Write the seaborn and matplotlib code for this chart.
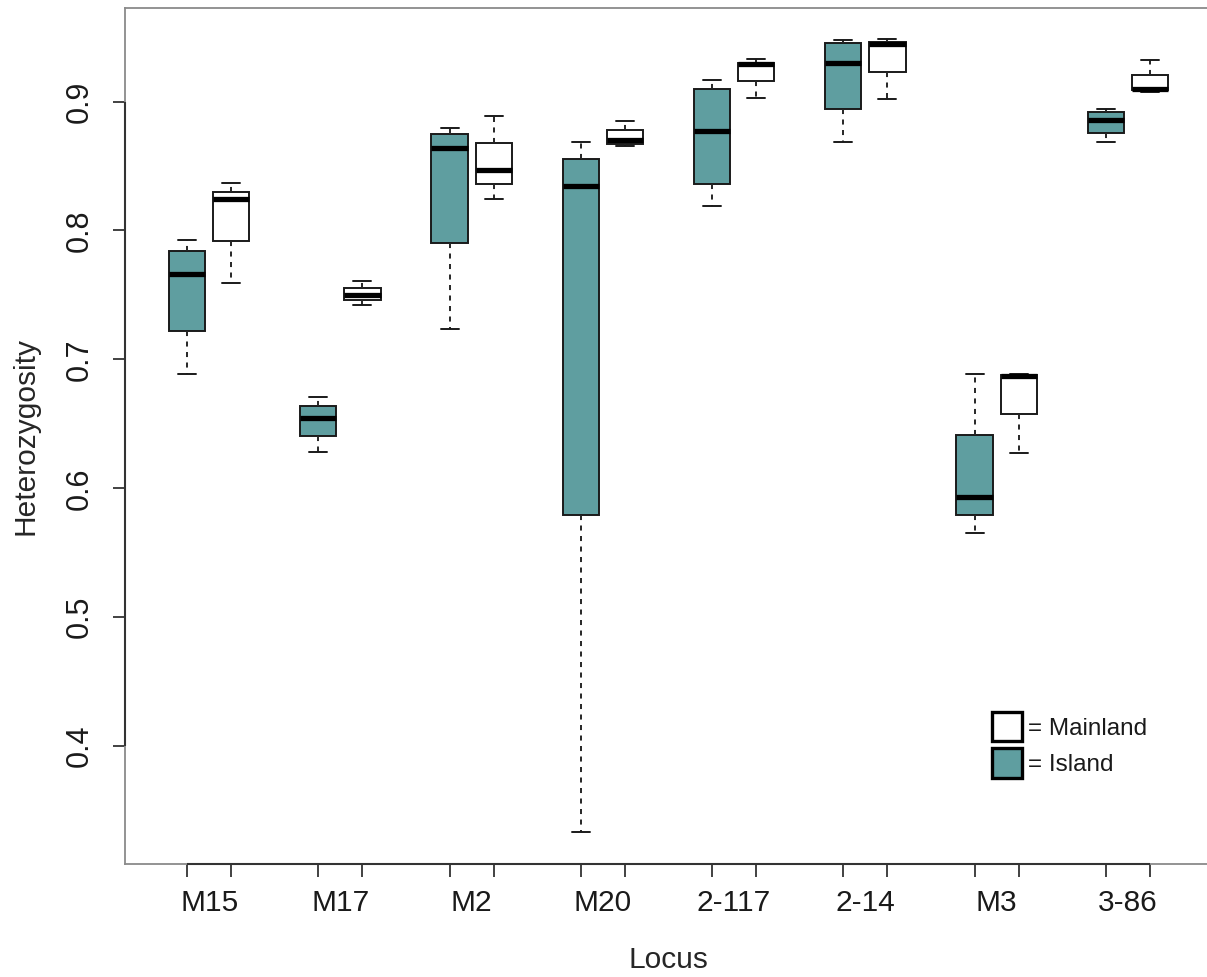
import numpy as np
import pandas as pd
import matplotlib
matplotlib.use("Agg")
import matplotlib.pyplot as plt
import seaborn as sns
from matplotlib.patches import Patch

# Loci (x categories)
loci = ["M15", "M17", "M2", "M20", "2-117", "2-14", "M3", "3-86"]

# Five-number summaries: min, Q1, median, Q3, max
island_vals = [
    [0.6885, 0.7219, 0.7663, 0.7841, 0.7927],
    [0.6278, 0.6403, 0.6543, 0.6636, 0.6706],
    [0.7235, 0.7904, 0.8642, 0.8751, 0.8798],
    [0.3331, 0.5796, 0.8347, 0.8557, 0.8689],
    [0.8191, 0.8362, 0.8774, 0.9101, 0.9171],
    [0.8689, 0.8946, 0.9303, 0.9451, 0.9474],
    [0.5656, 0.5796, 0.5936, 0.6411, 0.6885],
    [0.8689, 0.8759, 0.8860, 0.8922, 0.8946],
]
mainland_vals = [
    [0.7593, 0.7919, 0.8246, 0.8300, 0.8370],
    [0.7421, 0.7460, 0.7499, 0.7554, 0.7608],
    [0.8246, 0.8362, 0.8471, 0.8681, 0.8891],
    [0.8658, 0.8673, 0.8705, 0.8782, 0.8852],
    [0.9031, 0.9163, 0.9288, 0.9303, 0.9327],
    [0.9023, 0.9233, 0.9443, 0.9459, 0.9482],
    [0.6270, 0.6574, 0.6870, 0.6877, 0.6885],
    [0.9078, 0.9086, 0.9101, 0.9210, 0.9319],
]

sites = ["Island", "Mainland"]
site_colors = {"Island": "#5F9EA0", "Mainland": "#FFFFFF"}
y_ticks = [0.4, 0.5, 0.6, 0.7, 0.8, 0.9]

# long table for seaborn
rows = []
for site, vals in zip(sites, [island_vals, mainland_vals]):
    for loc, five in zip(loci, vals):
        for v in five:
            rows.append({"Locus": loc, "Site": site, "Heterozygosity": v})
df = pd.DataFrame(rows)

sns.set_style("white")
plt.rcParams["font.family"] = ["Liberation Sans", "DejaVu Sans"]
plt.rcParams["text.color"] = "#1a1a1a"

fig = plt.figure(figsize=(12.07, 9.77), dpi=100)
ax = fig.add_axes([125 / 1207, 113 / 977, (1212 - 125) / 1207, (864 - 8) / 977])

line_col = "#1a1a1a"
group_width = 0.672
sns.boxplot(
    data=df, x="Locus", y="Heterozygosity", hue="Site",
    order=loci, hue_order=sites, palette=site_colors, saturation=1,
    width=group_width, gap=0.18, whis=(0, 100), linecolor=line_col,
    linewidth=1.4, legend=False, ax=ax,
    medianprops=dict(color="black", linewidth=3.8, solid_capstyle="butt"),
    whiskerprops=dict(color="#262626", linewidth=1.4, linestyle=(0, (2.6, 2.8))),
    capprops=dict(color=line_col, linewidth=1.4),
    boxprops=dict(edgecolor=line_col, linewidth=1.4),
)

ax.set_xlim(-0.641, len(loci) - 1 + 0.641)
ax.set_ylim(0.3085, 0.9726)

# frame in grey, axis lines darker between first and last tick (R style)
for side in ["left", "bottom", "top"]:
    ax.spines[side].set_visible(True)
    ax.spines[side].set_color("#8a8a8a")
    ax.spines[side].set_linewidth(1.3)
ax.spines["right"].set_visible(False)

off = group_width / 4
box_pos = sorted([i - off for i in range(len(loci))] + [i + off for i in range(len(loci))])
ax.plot([box_pos[0], box_pos[-1]], [0, 0], transform=ax.get_xaxis_transform(),
        color="#333333", lw=1.5, clip_on=False, solid_capstyle="butt", zorder=5)
ax.plot([0, 0], [y_ticks[0], y_ticks[-1]], transform=ax.get_yaxis_transform(),
        color="#333333", lw=1.5, clip_on=False, solid_capstyle="butt", zorder=5)

# x: labels at locus centre, tick marks at every box
ax.set_xticks(range(len(loci)))
ax.set_xticklabels(loci)
ax.tick_params(axis="x", which="major", length=0, pad=18, labelsize=21.5, labelcolor="#1a1a1a")
ax.set_xticks(box_pos, minor=True)
ax.tick_params(axis="x", which="minor", length=9.5, width=1.3, color="#333333", bottom=True)

ax.set_yticks(y_ticks)
ax.set_yticklabels([f"{t:.1f}" for t in y_ticks])
ax.tick_params(axis="y", length=9, width=1.3, color="#333333", pad=13, labelsize=22,
               labelrotation=90, left=True, labelcolor="#1a1a1a")
for lab in ax.get_yticklabels():
    lab.set_va("center")

ax.set_xlabel("Locus", fontsize=21.5, labelpad=21)
ax.set_ylabel("Heterozygosity", fontsize=21.5, labelpad=18)

handles = [Patch(facecolor=site_colors["Mainland"], edgecolor="black", linewidth=2.4),
           Patch(facecolor=site_colors["Island"], edgecolor="black", linewidth=2.4)]
ax.legend(handles, ["= Mainland", "= Island"], loc="upper left",
          bbox_to_anchor=(992 / 1207, 1 - 712 / 977), bbox_transform=fig.transFigure,
          frameon=False, fontsize=17.5, handlelength=1.24, handleheight=1.47,
          handletextpad=0.25, labelspacing=0.3, borderpad=0, borderaxespad=0)

fig.savefig("out.png", dpi=100)
